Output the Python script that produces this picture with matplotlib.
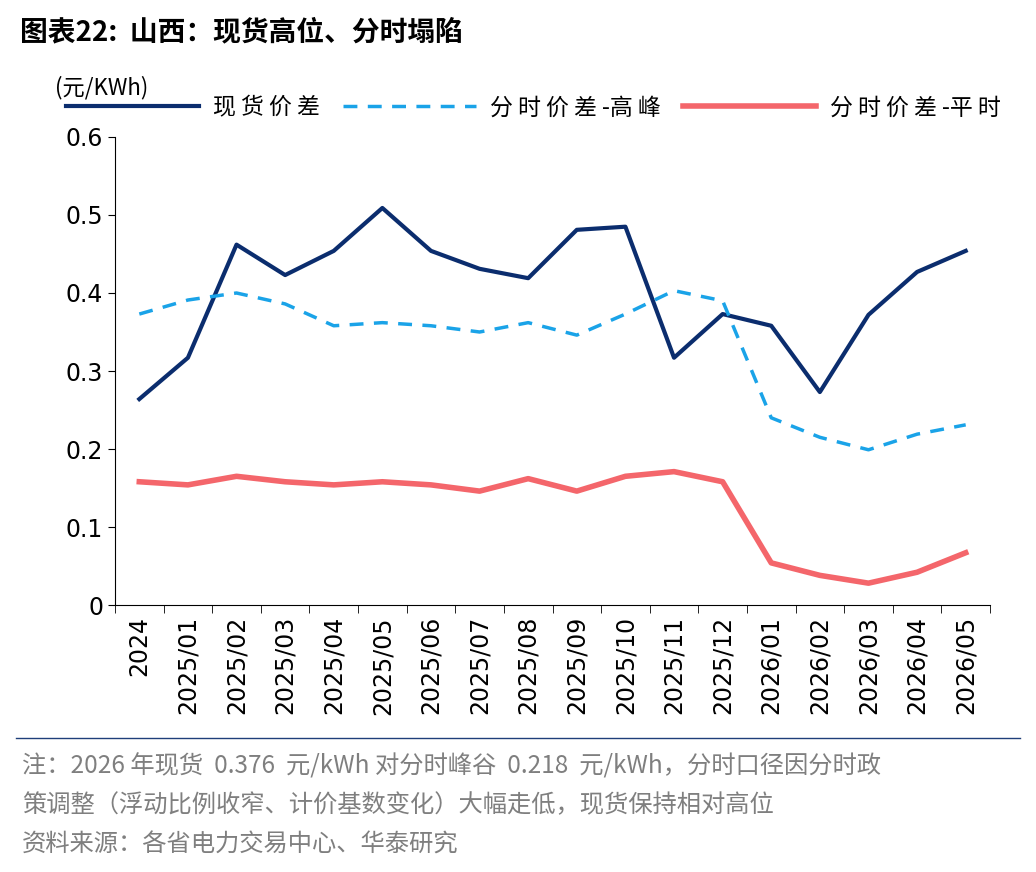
import matplotlib.pyplot as plt
from matplotlib.lines import Line2D
import numpy as np

plt.rcParams['font.family'] = ['Noto Sans CJK SC', 'DejaVu Sans']

months = ['2024', '2025/01', '2025/02', '2025/03', '2025/04', '2025/05', '2025/06',
          '2025/07', '2025/08', '2025/09', '2025/10', '2025/11', '2025/12',
          '2026/01', '2026/02', '2026/03', '2026/04', '2026/05']
spot = [0.264, 0.317, 0.462, 0.423, 0.454, 0.509, 0.454, 0.431, 0.419, 0.481,
        0.485, 0.317, 0.373, 0.358, 0.273, 0.372, 0.427, 0.454]
peak = [0.373, 0.391, 0.400, 0.386, 0.358, 0.362, 0.358, 0.350, 0.362, 0.346,
        0.373, 0.403, 0.390, 0.240, 0.215, 0.199, 0.219, 0.231]
flat = [0.158, 0.154, 0.165, 0.158, 0.154, 0.158, 0.154, 0.146, 0.162, 0.146,
        0.165, 0.171, 0.158, 0.054, 0.038, 0.028, 0.042, 0.067]

navy = '#0B2D6E'
cyan = '#1AA3E8'
red = '#F4666B'

fig = plt.figure(figsize=(10.36, 8.72), dpi=100)
ax = fig.add_axes([115/1036, 1-605/872, 875/1036, 468/872])
x = np.arange(len(months))
ax.plot(x, spot, color=navy, lw=3)
ax.plot(x, peak, color=cyan, lw=2.5, ls=(0, (4, 3)))
ax.plot(x, flat, color=red, lw=4)

ax.set_xlim(-0.5, len(months) - 0.5)
ax.set_ylim(0, 0.6)
ax.set_yticks([0, 0.1, 0.2, 0.3, 0.4, 0.5, 0.6])
ax.set_yticklabels(['0', '0.1', '0.2', '0.3', '0.4', '0.5', '0.6'], fontsize=17,
                   family='DejaVu Sans')
ax.set_xticks(x)
ax.set_xticklabels(months, rotation=90, fontsize=17, family='DejaVu Sans')
ax.tick_params(axis='x', length=0, pad=8)
ax.set_xticks(np.arange(-0.5, len(months)), minor=True)
ax.tick_params(axis='x', which='minor', length=6, direction='out')
ax.tick_params(axis='y', length=5, direction='out')
for s in ['top', 'right']:
    ax.spines[s].set_visible(False)

fig.text(55/1036, 1-88/872, '(元/KWh)', fontsize=16, va='center')
handles = [Line2D([], [], color=navy, lw=3),
           Line2D([], [], color=cyan, lw=2.5, ls=(0, (4, 3))),
           Line2D([], [], color=red, lw=4)]
fig.legend(handles, ['现 货 价 差', '分 时 价 差 -高 峰', '分 时 价 差 -平 时'], loc='center',
           bbox_to_anchor=(0.515, 1-108/872), ncol=3, frameon=False, fontsize=16.5,
           handlelength=5.8, columnspacing=1.0, handletextpad=0.6)

fig.text(20/1036, 1-32/872, '图表22:  山西：现货高位、分时塌陷', fontsize=20,
         fontweight='bold', va='center')
fig.add_artist(Line2D([0.015, 0.985], [1-738/872, 1-738/872], color='#1F3F7A', lw=1))
gray = '#7F7F7F'
fig.text(22/1036, 1-766/872, '注：2026 年现货  0.376  元/kWh 对分时峰谷  0.218  元/kWh，分时口径因分时政',
         fontsize=17.5, color=gray, va='center')
fig.text(22/1036, 1-805/872, '策调整（浮动比例收窄、计价基数变化）大幅走低，现货保持相对高位',
         fontsize=17.5, color=gray, va='center')
fig.text(22/1036, 1-845/872, '资料来源：各省电力交易中心、华泰研究', fontsize=17.5, color=gray,
         va='center')

fig.savefig('out.png', dpi=100)
